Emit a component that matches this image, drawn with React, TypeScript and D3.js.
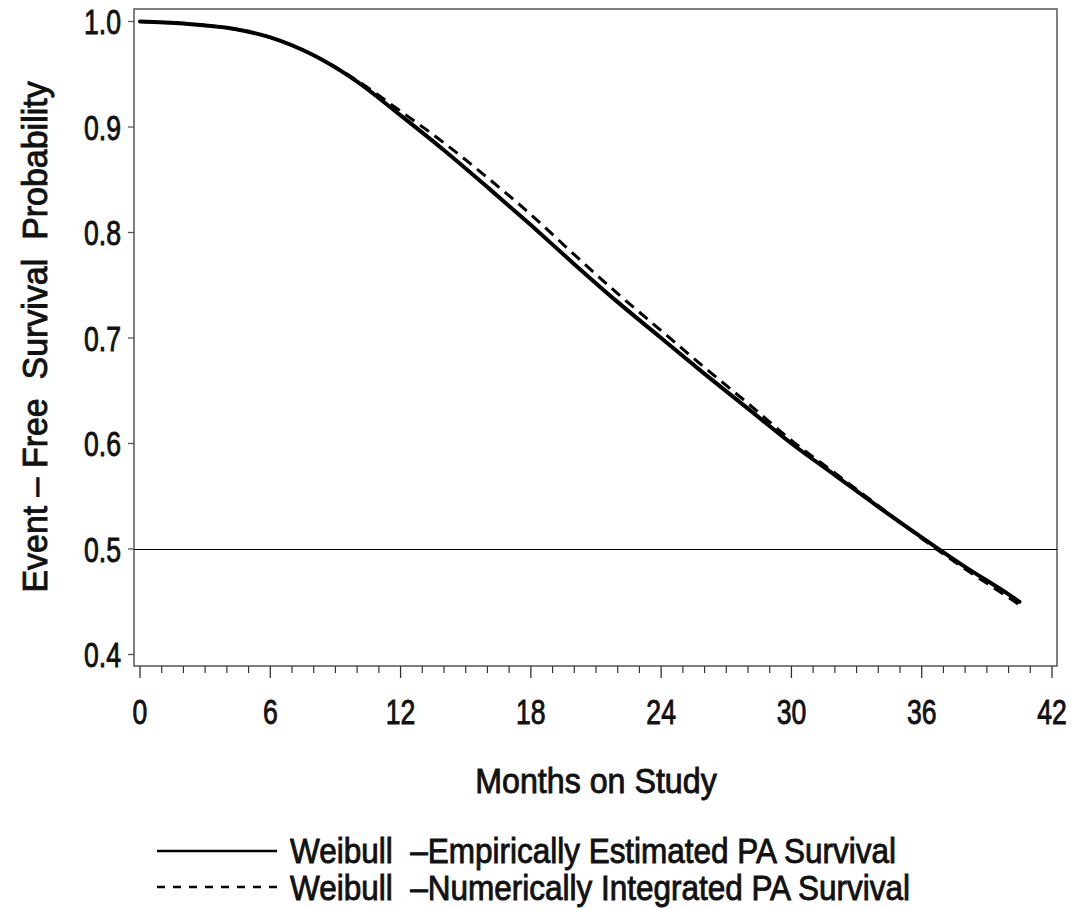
import React from 'react';
import * as d3 from 'd3';

// months on study
const months = [0, 2, 4, 6, 8, 10, 12, 14, 16, 18, 20, 22, 24, 26, 28, 30, 32, 34, 36, 38, 40, 40.5];

// Weibull - empirically estimated PA survival
const empirical = [1.0, 0.998, 0.994, 0.985, 0.968, 0.943, 0.911, 0.878, 0.843, 0.807, 0.770, 0.734, 0.700, 0.666, 0.633, 0.600, 0.570, 0.540, 0.511, 0.483, 0.457, 0.45];

// Weibull - numerically integrated PA survival
const integrated = [1.0, 0.998, 0.994, 0.985, 0.968, 0.944, 0.915, 0.885, 0.852, 0.817, 0.779, 0.742, 0.707, 0.672, 0.638, 0.603, 0.572, 0.541, 0.510, 0.481, 0.454, 0.447];

const xTicks = [0, 6, 12, 18, 24, 30, 36, 42];
const yTicks = [0.4, 0.5, 0.6, 0.7, 0.8, 0.9, 1.0];

const legendLabels = [
  'Weibull  \u2013Empirically Estimated PA Survival',
  'Weibull  \u2013Numerically Integrated PA Survival',
];

const font = '"Liberation Sans", Arial, sans-serif';

// condensed, slightly heavy text like the SAS swiss font
const Txt = ({ x, y, sx = 1, anchor = 'start', size = 34, children }: any) => (
  <text transform={`translate(${x},${y}) scale(${sx},1)`} textAnchor={anchor} fontSize={size}
    fill="#111" stroke="#111" strokeWidth={0.9} style={{ whiteSpace: 'pre' }}>{children}</text>
);

const App = () => {
  const width = 1073;
  const height = 909;
  const frame = { left: 134, top: 9, right: 1057, bottom: 666 };

  const x = d3.scaleLinear().domain([0, 42]).range([140, 1052]);
  const y = d3.scaleLinear().domain([0.4, 1.0]).range([654.5, 21.5]);

  const line = (vals: number[]) =>
    d3.line<number>()
      .x((_, i) => x(months[i]))
      .y(d => y(d))
      .curve(d3.curveMonotoneX)(vals) || '';

  const minorTicks = d3.range(0, 43, 1).filter(m => m % 6 !== 0);

  return (
    <svg width={width} height={height} style={{ position: 'absolute', left: 0, top: 0, background: '#fff' }}
      fontFamily={font}>
      {/* frame */}
      <rect x={frame.left} y={frame.top} width={frame.right - frame.left} height={frame.bottom - frame.top}
        fill="none" stroke="#555" strokeWidth={1.5} />

      {/* y axis ticks */}
      {yTicks.map(t => (
        <g key={t}>
          <line x1={frame.left - 6} x2={frame.left} y1={y(t)} y2={y(t)} stroke="#555" strokeWidth={1.3} />
          <Txt x={121} y={y(t) + 12.5} sx={0.76} anchor="end" size={35}>{t.toFixed(1)}</Txt>
        </g>
      ))}

      {/* x axis ticks */}
      {xTicks.map(t => (
        <g key={t}>
          <line x1={x(t)} x2={x(t)} y1={frame.bottom} y2={frame.bottom + 12} stroke="#333" strokeWidth={1.3} />
          <Txt x={x(t)} y={724} sx={0.76} anchor="middle" size={35}>{t}</Txt>
        </g>
      ))}
      {minorTicks.map(t => (
        <line key={'m' + t} x1={x(t)} x2={x(t)} y1={frame.bottom} y2={frame.bottom + 7} stroke="#333" strokeWidth={1.2} />
      ))}

      {/* axis titles */}
      <Txt x={596} y={793} sx={0.92} anchor="middle" size={35}>Months on Study</Txt>
      <g transform="translate(47,337) rotate(-90)">
        <Txt x={0} y={0} sx={0.97} anchor="middle" size={35}>{'Event \u2013 Free  Survival  Probability'}</Txt>
      </g>

      {/* reference line at 0.5 */}
      <line x1={frame.left} x2={frame.right} y1={y(0.5)} y2={y(0.5)} stroke="#000" strokeWidth={1}
        shapeRendering="crispEdges" />

      {/* curves */}
      <path d={line(integrated)} fill="none" stroke="#000" strokeWidth={3} strokeDasharray="11 7" />
      <path d={line(empirical)} fill="none" stroke="#000" strokeWidth={4} strokeLinecap="round" />

      {/* legend */}
      <line x1={157} x2={277} y1={851} y2={851} stroke="#000" strokeWidth={2.5} />
      <line x1={157} x2={277} y1={887} y2={887} stroke="#000" strokeWidth={2.5} strokeDasharray="8 8" />
      {legendLabels.map((l, i) => (
        <Txt key={l} x={290} y={863 + i * 37} sx={0.9} size={35}>{l}</Txt>
      ))}
    </svg>
  );
};

export default App;
